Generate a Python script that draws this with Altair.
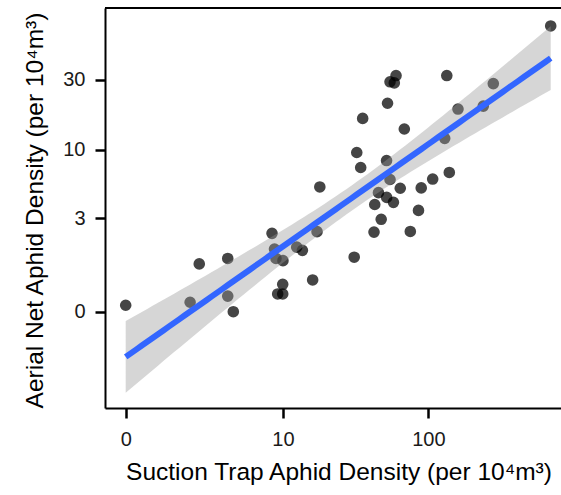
import numpy as np
import pandas as pd
import altair as alt

# Raw densities (per 10^4 m^3)
suction = [0, 1.67, 2.07, 3.74, 3.74, 4.16, 8.31, 8.67, 8.89, 10.0,
           9.96, 9.15, 9.96, 12.57, 13.8, 16.3, 17.5, 18.3, 31.6, 32.9,
           35.0, 36.1, 43.1, 43.6, 46.2, 48.2, 52.4, 53.2, 52.5, 55.3,
           58.3, 55.3, 59.1, 60.7, 64.8, 69.0, 75.7, 85.9, 89.6, 106.9,
           128.6, 132.8, 138.0, 157.7, 232.4, 270.9, 651.6]
aerial = [0.10, 0.15, 1.03, 1.20, 0.26, 0.0, 2.19, 1.53, 1.20, 1.13,
          0.50, 0.30, 0.30, 1.60, 1.48, 0.60, 2.27, 5.34, 1.24, 9.56,
          7.46, 16.5, 2.25, 3.89, 4.83, 2.93, 8.38, 20.9, 4.43, 6.08,
          4.05, 29.1, 28.6, 32.0, 5.22, 13.96, 2.28, 3.48, 5.25, 6.13,
          12.03, 32.0, 6.86, 19.1, 20.0, 28.3, 67.8]

x_ticks = [0, 10, 100]
y_ticks = [0, 3, 10, 30]
x_title = "Suction Trap Aphid Density (per 10\u2074m\u00b3)"
y_title = "Aerial Net Aphid Density (per 10\u2074m\u00b3)"

pts = pd.DataFrame({"sx": suction, "ay": aerial})
pts["tx"] = np.log10(pts["sx"] + 1)
pts["ty"] = np.log10(pts["ay"] + 1)

# linear fit with 95% confidence band on the transformed scale (like geom_smooth(method="lm"))
xv = pts["tx"].to_numpy()
yv = pts["ty"].to_numpy()
n = len(xv)
slope, intercept = np.polyfit(xv, yv, 1)
resid = yv - (slope * xv + intercept)
s = np.sqrt(np.sum(resid ** 2) / (n - 2))
sxx = np.sum((xv - xv.mean()) ** 2)
tcrit = 2.0141  # t(0.975, df=45)
grid = np.linspace(xv.min(), xv.max(), 80)
fitv = slope * grid + intercept
se = s * np.sqrt(1.0 / n + (grid - xv.mean()) ** 2 / sxx)
fit = pd.DataFrame({"tx": grid, "ty": fitv, "lo": fitv - tcrit * se, "hi": fitv + tcrit * se})

font = "Liberation Sans"
x_scale = alt.Scale(domain=[-0.1371, 2.8828], nice=False, zero=False)
y_scale = alt.Scale(domain=[-0.6193, 1.953], nice=False, zero=False)
lab = "format(pow(10, datum.value) - 1, '.0f')"

x_axis = alt.Axis(values=[float(np.log10(v + 1)) for v in x_ticks], labelExpr=lab,
                  title=x_title, titleX=233.5, titleY=71, titleBaseline="alphabetic",
                  tickSize=10, labelPadding=11, grid=False)
y_axis = alt.Axis(values=[float(np.log10(v + 1)) for v in y_ticks], labelExpr=lab,
                  title=y_title, titleX=-63, titleY=202, titleBaseline="alphabetic",
                  tickSize=10, labelPadding=10, grid=False)

points = alt.Chart(pts).mark_circle(size=135, color="black", opacity=0.73).encode(
    x=alt.X("tx:Q", scale=x_scale, axis=x_axis),
    y=alt.Y("ty:Q", scale=y_scale, axis=y_axis),
)
band = alt.Chart(fit).mark_area(color="#999999", opacity=0.4).encode(
    x=alt.X("tx:Q", scale=x_scale, axis=x_axis),
    y=alt.Y("lo:Q", scale=y_scale, axis=y_axis),
    y2="hi:Q",
)
line = alt.Chart(fit).mark_line(color="#3366FF", strokeWidth=6).encode(
    x=alt.X("tx:Q", scale=x_scale, axis=x_axis),
    y=alt.Y("ty:Q", scale=y_scale, axis=y_axis),
)
top = alt.Chart(pts).mark_rule(color="black", strokeWidth=2).encode(
    x=alt.value(0), x2=alt.value(456), y=alt.value(0)
)

chart = (
    alt.layer(points, band, line, top)
    .properties(width=456, height=400, autosize=alt.AutoSizeParams(type="none"),
                padding={"left": 105, "top": 8, "right": 0, "bottom": 87})
    .configure_view(strokeWidth=0)
    .configure_axis(domainColor="black", domainWidth=2, tickColor="black", tickWidth=2.5,
                    labelFont=font, labelFontSize=20, labelColor="#1a1a1a",
                    titleFont=font, titleFontSize=24.5, titleColor="black",
                    titleFontWeight="normal")
)
chart.save("out.html", embed_options={"renderer": "svg", "actions": False})
